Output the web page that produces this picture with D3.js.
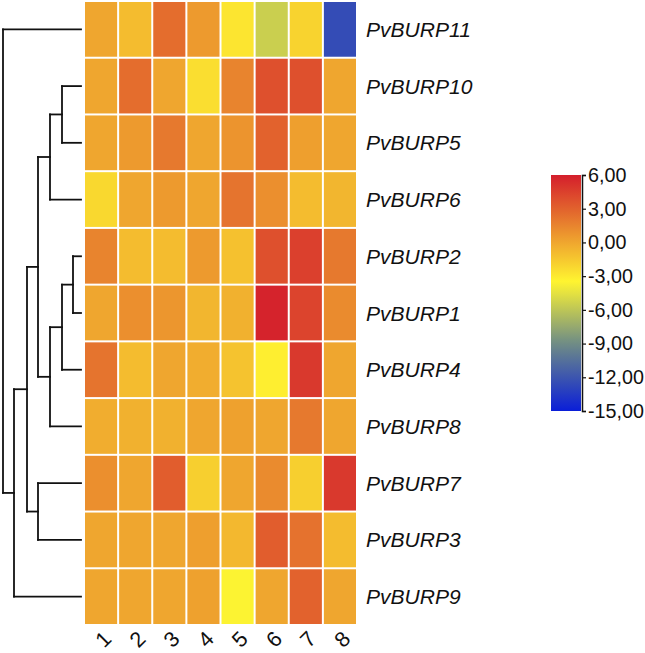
<!DOCTYPE html>
<html><head><meta charset="utf-8">
<script src="https://cdn.jsdelivr.net/npm/d3@7"></script>
<style>body{margin:0;background:#fff}svg{display:block}</style>
</head><body>
<svg id="c" width="645" height="653"></svg>
<script>
const rows = ["PvBURP11","PvBURP10","PvBURP5","PvBURP6","PvBURP2","PvBURP1","PvBURP4","PvBURP8","PvBURP7","PvBURP3","PvBURP9"];
const columns = ["1","2","3","4","5","6","7","8"];
const values = [
  [0.0, -1.0, 2.5, 0.5, -2.8, -5.5, -2.0, -12.5],
  [0.0, 2.5, 0.0, -2.5, 1.5, 3.8, 3.8, 0.0],
  [0.0, 0.5, 2.0, 0.0, 0.8, 3.0, 0.3, 0.0],
  [-2.2, 0.0, 0.5, 0.0, 2.2, 1.0, -1.0, -0.7],
  [1.5, -1.0, -1.0, 0.5, -1.2, 3.8, 4.5, 2.0],
  [0.0, 1.0, 0.7, -0.7, -0.5, 5.8, 4.3, 1.2],
  [2.2, -1.0, 0.0, -0.3, -1.3, -3.2, 4.8, 0.0],
  [-0.3, -0.5, -0.5, 0.0, 0.2, 0.0, 2.0, 0.0],
  [1.0, 0.0, 3.2, -1.8, 0.0, 1.2, -1.8, 4.8],
  [0.0, 0.0, 0.0, 0.3, -0.8, 3.2, 2.3, -1.0],
  [0.0, 0.0, 0.0, 0.2, -3.6, 0.0, 3.0, 0.0]
];
// dendrogram merges: [childA, childB, height]; "m<i>" refers to merge i
const merges = [
  ["PvBURP2","PvBURP1",8],
  ["PvBURP10","PvBURP5",19],
  ["m0","PvBURP4",19],
  ["m1","PvBURP6",31],
  ["m2","PvBURP8",31],
  ["m3","m4",43],
  ["PvBURP7","PvBURP3",43],
  ["m5","m6",54],
  ["m7","PvBURP9",67],
  ["PvBURP11","m8",78]
];
const legendTicks = [6,3,0,-3,-6,-9,-12,-15];
const colorDomain = [-15,-9,-3.5,6];
const colorRange = ["#0a1ed8","#6e8c86","#fff530","#d41e2c"];

const FONT = "Liberation Sans, Arial, sans-serif";
const svg = d3.select("#c");
const color = d3.scaleLinear().domain(colorDomain).range(colorRange);

// fit a font size so that a sample string has the given pixel width
function fitSize(sample, width, italic){
  const t = svg.append("text").attr("font-family",FONT).attr("font-size",100)
    .attr("font-style", italic ? "italic" : "normal").text(sample);
  const w = t.node().getComputedTextLength();
  t.remove();
  return 100*width/w;
}

const hmX0 = 84, hmX1 = 357, hmY0 = 1, hmY1 = 625;
const x = d3.scaleBand().domain(columns).range([hmX0, hmX1]);
const y = d3.scaleBand().domain(rows).range([hmY0, hmY1]);

// heatmap cells
const cells = [];
rows.forEach((r,i)=>columns.forEach((c,j)=>cells.push({r,c,v:values[i][j]})));
svg.append("g").selectAll("rect").data(cells).join("rect")
  .attr("x", d=>x(d.c)+1).attr("y", d=>y(d.r)+1)
  .attr("width", x.bandwidth()-2).attr("height", y.bandwidth()-2)
  .attr("fill", d=>color(d.v));

// row labels
const rowSize = fitSize("PvBURP11", 105, true);
svg.append("g").selectAll("text").data(rows).join("text")
  .attr("x", 366).attr("y", d=>y(d)+y.bandwidth()/2)
  .attr("dy","0.36em")
  .attr("font-family",FONT)
  .attr("font-style","italic").attr("font-size",rowSize).attr("fill","#111")
  .text(d=>d);

// column labels rotated
const colSize = fitSize("00", 24, false);
svg.append("g").selectAll("text").data(columns).join("text")
  .attr("transform", d=>`translate(${x(d)+x.bandwidth()/2+2},${639}) rotate(-45)`)
  .attr("text-anchor","middle").attr("dy","0.36em")
  .attr("font-family",FONT)
  .attr("font-size",colSize).attr("fill","#111")
  .text(d=>d);

// dendrogram
const hScale = d3.scaleLinear().domain([0,78]).range([81,3]);
const nodes = {};
rows.forEach(r=>{ nodes[r] = {name:r, h:0, y:y(r)+y.bandwidth()/2}; });
merges.forEach((m,i)=>{
  const a = nodes[m[0]], b = nodes[m[1]];
  nodes["m"+i] = {name:"m"+i, h:m[2], y:(a.y+b.y)/2, children:[a,b]};
});
const segs = [];
merges.forEach((m,i)=>{
  const n = nodes["m"+i];
  const nx = hScale(n.h);
  segs.push([nx, n.children[0].y, nx, n.children[1].y]);
  n.children.forEach(ch=>segs.push([nx, ch.y, hScale(ch.h), ch.y]));
});
svg.append("g").selectAll("line").data(segs).join("line")
  .attr("x1",d=>d[0]).attr("y1",d=>d[1]).attr("x2",d=>d[2]).attr("y2",d=>d[3])
  .attr("stroke","#111").attr("stroke-width",1.8).attr("stroke-linecap","square");

// color legend
const lgX = 551, lgW = 30, lgY0 = 175, lgY1 = 411;
const ls = d3.scaleLinear().domain([-15,6]).range([lgY1, lgY0]);
const defs = svg.append("defs");
const grad = defs.append("linearGradient").attr("id","g").attr("x1",0).attr("y1",1).attr("x2",0).attr("y2",0);
d3.range(0,1.0001,0.05).forEach(t=>{
  const v = -15 + 21*t;
  grad.append("stop").attr("offset", t).attr("stop-color", color(v));
});
svg.append("rect").attr("x",lgX).attr("y",lgY0).attr("width",lgW).attr("height",lgY1-lgY0).attr("fill","url(#g)");
const lgSize = fitSize("-15,00", 56, false);
const ax = svg.append("g").attr("transform",`translate(${lgX+lgW+1},0)`)
  .call(d3.axisRight(ls).tickValues(legendTicks).tickSize(4).tickPadding(2)
    .tickFormat(v=>(v<0?"-":"")+Math.abs(v).toFixed(2).replace(".",",")));
ax.select(".domain").attr("stroke","#111").attr("stroke-width",1.5);
ax.selectAll(".tick line").attr("stroke","#111").attr("stroke-width",1.2);
ax.selectAll("text").attr("font-family",FONT).attr("font-size",lgSize).attr("fill","#111");
</script>
</body></html>
